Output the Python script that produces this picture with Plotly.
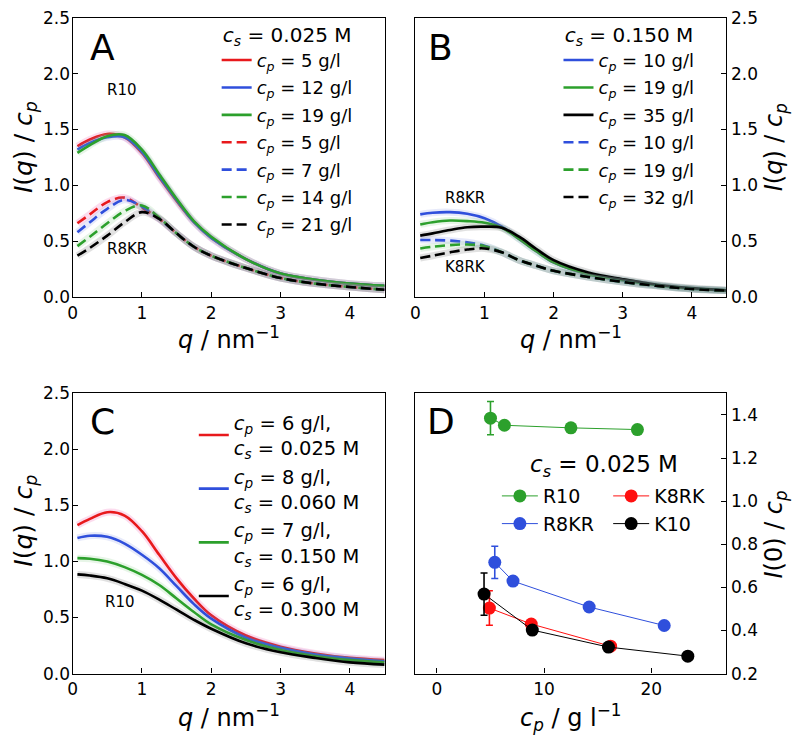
import plotly.graph_objects as go

# ---------------- data ----------------
q = [0.07, 0.25, 0.5, 0.75, 1.0, 1.25, 1.5, 1.75, 2.0, 2.5, 3.0, 3.5, 4.0, 4.5]

# Panel A  (cs = 0.025 M)  R10 solid, R8KR dashed
A_R10_cp5  = [1.35, 1.41, 1.46, 1.43, 1.29, 1.07, 0.86, 0.67, 0.53, 0.34, 0.21, 0.155, 0.12, 0.10]
A_R10_cp12 = [1.32, 1.38, 1.43, 1.43, 1.30, 1.08, 0.87, 0.67, 0.53, 0.34, 0.21, 0.155, 0.12, 0.10]
A_R10_cp19 = [1.29, 1.36, 1.44, 1.45, 1.32, 1.10, 0.88, 0.68, 0.54, 0.34, 0.21, 0.155, 0.12, 0.10]
A_R8KR_cp5  = [0.66, 0.74, 0.85, 0.89, 0.80, 0.70, 0.57, 0.45, 0.37, 0.26, 0.17, 0.12, 0.09, 0.065]
A_R8KR_cp7  = [0.58, 0.67, 0.79, 0.87, 0.81, 0.70, 0.57, 0.45, 0.37, 0.26, 0.17, 0.12, 0.09, 0.065]
A_R8KR_cp14 = [0.456, 0.54, 0.66, 0.77, 0.82, 0.71, 0.57, 0.45, 0.37, 0.26, 0.17, 0.12, 0.09, 0.065]
A_R8KR_cp21 = [0.37, 0.44, 0.55, 0.67, 0.76, 0.70, 0.57, 0.45, 0.37, 0.26, 0.17, 0.12, 0.09, 0.065]

# Panel B  (cs = 0.150 M)  R8KR solid, K8RK dashed
B_R8KR_cp10 = [0.74, 0.755, 0.76, 0.745, 0.705, 0.63, 0.52, 0.41, 0.31, 0.205, 0.15, 0.105, 0.075, 0.06]
B_R8KR_cp19 = [0.65, 0.67, 0.685, 0.68, 0.665, 0.62, 0.52, 0.41, 0.31, 0.205, 0.15, 0.105, 0.075, 0.06]
B_R8KR_cp35 = [0.55, 0.57, 0.60, 0.625, 0.63, 0.62, 0.54, 0.43, 0.33, 0.22, 0.16, 0.11, 0.08, 0.06]
B_K8RK_cp10 = [0.51, 0.51, 0.505, 0.49, 0.46, 0.40, 0.33, 0.28, 0.235, 0.18, 0.135, 0.10, 0.072, 0.058]
B_K8RK_cp19 = [0.435, 0.45, 0.465, 0.47, 0.455, 0.40, 0.33, 0.28, 0.235, 0.18, 0.135, 0.10, 0.072, 0.058]
B_K8RK_cp32 = [0.35, 0.37, 0.40, 0.425, 0.435, 0.40, 0.33, 0.28, 0.235, 0.18, 0.135, 0.10, 0.072, 0.058]

# Panel C  R10 at different cs
C_cs025 = [1.325, 1.38, 1.44, 1.41, 1.27, 1.06, 0.85, 0.67, 0.52, 0.34, 0.24, 0.18, 0.14, 0.12]
C_cs060 = [1.21, 1.23, 1.22, 1.16, 1.06, 0.94, 0.78, 0.62, 0.49, 0.32, 0.23, 0.17, 0.135, 0.11]
C_cs150 = [1.03, 1.025, 1.0, 0.95, 0.88, 0.79, 0.67, 0.55, 0.44, 0.30, 0.21, 0.155, 0.12, 0.10]
C_cs300 = [0.885, 0.875, 0.85, 0.80, 0.74, 0.66, 0.57, 0.48, 0.40, 0.27, 0.19, 0.14, 0.10, 0.08]

# Panel D  I(0)/cp vs cp
D_R10_cp   = [5.0, 6.3, 12.5, 18.7]
D_R10_I0   = [1.385, 1.352, 1.340, 1.332]
D_R10_err  = [0.077, 0, 0, 0]
D_R8KR_cp  = [5.4, 7.1, 14.2, 21.2]
D_R8KR_I0  = [0.716, 0.629, 0.509, 0.423]
D_R8KR_err = [0.075, 0, 0, 0]
D_K8RK_cp  = [4.9, 8.8, 16.2]
D_K8RK_I0  = [0.504, 0.430, 0.327]
D_K8RK_err = [0.08, 0, 0]
D_K10_cp   = [4.4, 8.9, 16.0, 23.4]
D_K10_I0   = [0.569, 0.402, 0.323, 0.281]
D_K10_err  = [0.098, 0, 0, 0]

# ---------------- style ----------------
RED, BLUE, GREEN, BLACK = "#e8191c", "#2f4fdc", "#2ca02c", "#000000"
BAND = {RED: "rgba(240,60,160,0.18)", BLUE: "rgba(120,140,230,0.18)",
        GREEN: "rgba(120,200,120,0.18)", BLACK: "rgba(120,120,120,0.22)"}
FONT = "DejaVu Sans"
DASH = "10px,5px"

def cp(v):
    return f"<i>c</i><sub><i>p</i></sub> = {v} g/l"

fig = go.Figure()

def curve(y, color, name, xa, ya, legend, dashed=False, group=None):
    fig.add_trace(go.Scatter(x=q, y=y, mode="lines", xaxis=xa, yaxis=ya,
                             line=dict(color=BAND[color], width=7, shape="spline"),
                             showlegend=False, hoverinfo="skip"))
    fig.add_trace(go.Scatter(x=q, y=y, mode="lines", xaxis=xa, yaxis=ya, name=name,
                             line=dict(color=color, width=2.6, shape="spline",
                                       dash=DASH if dashed else "solid"),
                             legend=legend, legendgroup=group))

# Panel A
curve(A_R10_cp5, RED, cp(5), "x", "y", "legend", group="a1")
curve(A_R10_cp12, BLUE, cp(12), "x", "y", "legend", group="a2")
curve(A_R10_cp19, GREEN, cp(19), "x", "y", "legend", group="a3")
curve(A_R8KR_cp5, RED, cp(5), "x", "y", "legend", True, group="a4")
curve(A_R8KR_cp7, BLUE, cp(7), "x", "y", "legend", True, group="a5")
curve(A_R8KR_cp14, GREEN, cp(14), "x", "y", "legend", True, group="a6")
curve(A_R8KR_cp21, BLACK, cp(21), "x", "y", "legend", True, group="a7")

# Panel B
curve(B_R8KR_cp10, BLUE, cp(10), "x2", "y2", "legend2", group="b1")
curve(B_R8KR_cp19, GREEN, cp(19), "x2", "y2", "legend2", group="b2")
curve(B_R8KR_cp35, BLACK, cp(35), "x2", "y2", "legend2", group="b3")
curve(B_K8RK_cp10, BLUE, cp(10), "x2", "y2", "legend2", True, group="b4")
curve(B_K8RK_cp19, GREEN, cp(19), "x2", "y2", "legend2", True, group="b5")
curve(B_K8RK_cp32, BLACK, cp(32), "x2", "y2", "legend2", True, group="b6")

# Panel C
def cpcs(p, s):
    return f"<i>c</i><sub><i>p</i></sub> = {p} g/l,<br><i>c</i><sub><i>s</i></sub> = {s} M"
curve(C_cs025, RED, cpcs(6, "0.025"), "x3", "y3", "legend3", group="c1")
curve(C_cs060, BLUE, cpcs(8, "0.060"), "x3", "y3", "legend3", group="c2")
curve(C_cs150, GREEN, cpcs(7, "0.150"), "x3", "y3", "legend3", group="c3")
curve(C_cs300, BLACK, cpcs(6, "0.300"), "x3", "y3", "legend3", group="c4")

# Panel D
def dseries(x, y, e, color, name, legend):
    fig.add_trace(go.Scatter(x=x, y=y, mode="lines+markers", name=name, xaxis="x4", yaxis="y4",
                             line=dict(color=color, width=1),
                             marker=dict(color=color, size=13),
                             error_y=dict(type="data", array=e, color=color, thickness=1.6, width=3.5),
                             legend=legend))
dseries(D_R10_cp, D_R10_I0, D_R10_err, GREEN, "R10", "legend4")
dseries(D_R8KR_cp, D_R8KR_I0, D_R8KR_err, BLUE, "R8KR", "legend4")
dseries(D_K8RK_cp, D_K8RK_I0, D_K8RK_err, "#ff1010", "K8RK", "legend5")
dseries(D_K10_cp, D_K10_I0, D_K10_err, BLACK, "K10", "legend5")

# ---------------- layout ----------------
W, H = 793, 741
def px(x):
    return x / W
def py(y):
    return 1 - y / H

dxL = [px(68), px(382)]
dxR = [px(413), px(726)]
dyT = [py(295), py(8)]
dyB = [py(682), py(394)]

axcommon = dict(showgrid=False, zeroline=False, showline=True, mirror=True,
                linecolor="black", linewidth=1.3, ticks="inside", ticklen=5,
                tickwidth=1.1, tickcolor="black", ticklabeloverflow="allow",
                tickfont=dict(family=FONT, size=17, color="black"))
XSH, LSH = 0, -2
yt = [0, 0.5, 1, 1.5, 2, 2.5]

layout = dict(
    width=W, height=H, margin=dict(l=0, r=0, t=0, b=0),
    paper_bgcolor="white", plot_bgcolor="white",
    font=dict(family=FONT, color="black"),
    xaxis=dict(domain=dxL, anchor="y", range=[0, 4.5], tickvals=[0, 1, 2, 3, 4],
               ticklabelstandoff=XSH, **axcommon),
    yaxis=dict(domain=dyT, anchor="x", range=[0, 2.5], tickvals=yt, tickformat=".1f",
               ticklabelstandoff=LSH, **axcommon),
    xaxis2=dict(domain=dxR, anchor="y2", range=[0, 4.5], tickvals=[0, 1, 2, 3, 4],
                ticklabelstandoff=XSH, **axcommon),
    yaxis2=dict(domain=dyT, anchor="x2", side="right", range=[0, 2.5], tickvals=yt,
                tickformat=".1f", **axcommon),
    xaxis3=dict(domain=dxL, anchor="y3", range=[0, 4.5], tickvals=[0, 1, 2, 3, 4],
                ticklabelstandoff=XSH, **axcommon),
    yaxis3=dict(domain=dyB, anchor="x3", range=[0, 2.5], tickvals=yt, tickformat=".1f",
                ticklabelstandoff=LSH, **axcommon),
    xaxis4=dict(domain=dxR, anchor="y4", range=[-2, 27], tickvals=[0, 10, 20],
                ticklabelstandoff=XSH, **axcommon),
    yaxis4=dict(domain=dyB, anchor="x4", side="right", range=[0.2, 1.5],
                tickvals=[0.2, 0.4, 0.6, 0.8, 1.0, 1.2, 1.4], tickformat=".1f", **axcommon),
)

def leg(x, y, title=None, gap=5, size=18, tsize=20, iw=30):
    d = dict(x=x, y=y, xanchor="left", yanchor="top", bgcolor="rgba(0,0,0,0)",
             font=dict(family=FONT, size=size, color="black"), itemwidth=iw,
             tracegroupgap=gap, traceorder="grouped",
             itemclick=False, itemdoubleclick=False)
    if title:
        d["title"] = dict(text=title, font=dict(family=FONT, size=tsize, color="black"),
                          side="top center")
    return d

cs = lambda s: f"<i>c</i><sub><i>s</i></sub> = {s} M"
layout["legend"] = leg(px(213), py(6), cs("0.025"), gap=1)
layout["legend2"] = leg(px(557), py(6), cs("0.150"), gap=1)
layout["legend3"] = leg(px(190), py(404), None, gap=0, size=19.5)
layout["legend4"] = leg(px(495), py(480), None, gap=0, size=19, iw=36)
layout["legend5"] = leg(px(607), py(480), None, gap=0, size=19, iw=36)

fig.update_layout(**layout)

ann = []
def txt(x, y, s, size, angle=0):
    ann.append(dict(x=px(x), y=py(y), xref="paper", yref="paper", text=s, showarrow=False,
                    textangle=angle, font=dict(family=FONT, size=size, color="black"),
                    xanchor="center", yanchor="middle"))
# panel letters
txt(98, 39, "A", 36)
txt(438, 39, "B", 36)
txt(98, 423, "C", 36)
txt(439, 423, "D", 36)
# curve labels
txt(118, 82, "R10", 15)
txt(123, 246, "R8KR", 15)
txt(463, 193, "R8KR", 15)
txt(463, 264, "K8RK", 15)
txt(116, 608, "R10", 15)
txt(603, 469, cs("0.025"), 23)
# axis titles
QT = "<i>q</i> / nm<sup>−1</sup>"
IQ = "<i>I</i>(<i>q</i>) / <i>c</i><sub><i>p</i></sub>"
txt(225, 337, QT, 24)
txt(570, 337, QT, 24)
txt(225, 726, QT, 24)
txt(569, 727, "<i>c</i><sub><i>p</i></sub> / g l<sup>−1</sup>", 24)
txt(20, 141, IQ, 25, -90)
txt(775, 141, IQ, 24, -90)
txt(20, 525, IQ, 25, -90)
txt(775, 539, "<i>I</i>(0) / <i>c</i><sub><i>p</i></sub>", 24, -90)
fig.update_layout(annotations=ann)

fig.write_html("out.html", config={"displayModeBar": False},
               post_script="document.body.style.margin='0px';")
